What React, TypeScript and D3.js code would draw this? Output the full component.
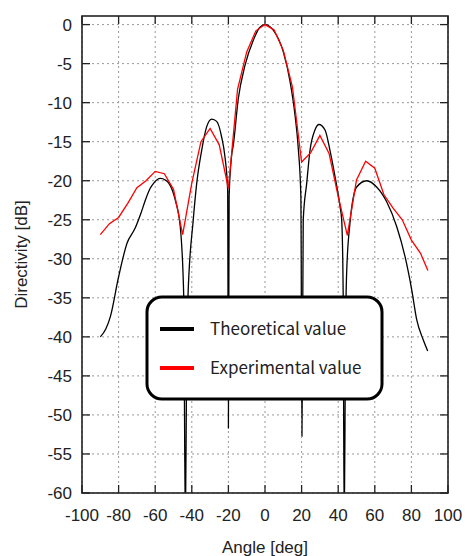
import React from "react";
import * as d3 from "d3";

const theoAngles = [-90, -87, -84.5, -80, -75.4, -71, -68, -65.4, -62.8, -60.8, -57.2, -54.5, -52.6, -49, -46.3, -44.4, -43.5, -42.8, -42.1, -39.2, -37.3, -34.6, -31.9, -29.1, -26.4, -23.7, -21.9, -20.4, -20.0, -19.6, -18.2, -17.3, -14.6, -10.9, -6.4, -3, 0, 4.5, 10, 13.7, 16.4, 18.2, 19.6, 20.2, 20.9, 22.8, 24.6, 27.3, 29.5, 32.8, 35.5, 38.3, 41, 41.9, 42.7, 43.3, 44.0, 44.6, 46.4, 50.1, 55.6, 61, 66.5, 72, 76.5, 80.2, 82.9, 86.5, 88.9];
const theoValues = [-40.0, -39.0, -37.4, -32.3, -28.0, -26.1, -24.3, -22.5, -21.0, -20.3, -19.7, -19.9, -20.3, -22.5, -25.9, -34.9, -65, -42, -34.9, -25.0, -20.3, -16.1, -13.1, -12.1, -12.4, -14.4, -16.9, -21.2, -51.7, -22.0, -16.7, -15.4, -9.5, -5.2, -2.0, -0.4, 0, -0.7, -3.5, -7.3, -11.6, -15.9, -22.0, -52.7, -25.0, -20.3, -16.1, -13.5, -12.8, -13.5, -16.1, -19.5, -23.3, -25.0, -34.0, -65, -40, -31.9, -25.5, -20.8, -20.0, -20.8, -22.7, -25.9, -29.7, -34.0, -37.8, -40.4, -41.8];

const expAngles = [-90, -85, -80, -75, -70, -65, -60, -55, -50, -45, -40, -35, -30, -25, -20, -15, -10, -5, 0, 5, 10, 15, 20, 25, 30, 35, 40, 45, 50, 55, 60, 65, 70, 75, 80, 85, 89];
const expValues = [-26.9, -25.5, -24.7, -22.9, -20.9, -20.0, -18.8, -19.1, -21.1, -26.9, -20.3, -15.0, -13.3, -15.4, -21.0, -8.3, -3.5, -0.8, 0, -0.7, -3.3, -8.0, -17.6, -16.4, -14.2, -16.5, -22.0, -27.0, -19.9, -17.5, -18.4, -21.8, -23.5, -25.0, -27.6, -29.3, -31.5];

const xTicks = [-100, -80, -60, -40, -20, 0, 20, 40, 60, 80, 100];
const yTicks = [0, -5, -10, -15, -20, -25, -30, -35, -40, -45, -50, -55, -60];

const seriesNames = ["Theoretical value", "Experimental value"];
const seriesColors = ["#000000", "#ff0000"];

export default function App() {
  const left = 82, right = 448, top = 16, bottom = 493;
  const x = d3.scaleLinear().domain([-100, 100]).range([left, right]);
  const y = d3.scaleLinear().domain([-60, 1.1]).range([bottom, top]);

  const theo = theoAngles.map((a, i) => [a, theoValues[i]] as [number, number]);
  const exp = expAngles.map((a, i) => [a, expValues[i]] as [number, number]);

  const smooth = d3.line<[number, number]>().x(d => x(d[0])).y(d => y(d[1])).curve(d3.curveMonotoneX);
  const straight = d3.line<[number, number]>().x(d => x(d[0])).y(d => y(d[1]));

  const tickFont = "'Liberation Sans', Arial, sans-serif";
  const legFont = "'Noto Sans CJK JP', 'Noto Sans', sans-serif";

  return (
    <svg width={465} height={556} style={{ position: "absolute", left: 0, top: 0, background: "#fff" }}>
      <defs>
        <clipPath id="plotclip">
          <rect x={left} y={top} width={right - left} height={bottom - top} />
        </clipPath>
      </defs>
      <rect x={0} y={0} width={465} height={556} fill="#fff" />
      {xTicks.map(t => (
        <line key={"gx" + t} x1={x(t)} x2={x(t)} y1={top} y2={bottom} stroke="#999" strokeWidth={1} strokeDasharray="2,3" />
      ))}
      {yTicks.map(t => (
        <line key={"gy" + t} x1={left} x2={right} y1={y(t)} y2={y(t)} stroke="#999" strokeWidth={1} strokeDasharray="2,3" />
      ))}
      <g clipPath="url(#plotclip)">
        <path d={smooth(theo) || ""} fill="none" stroke={seriesColors[0]} strokeWidth={1.3} />
        <path d={straight(exp) || ""} fill="none" stroke={seriesColors[1]} strokeWidth={1.3} />
      </g>
      {xTicks.map(t => (
        <g key={"tx" + t}>
          <line x1={x(t)} x2={x(t)} y1={bottom} y2={bottom - 8} stroke="#222" strokeWidth={1.3} />
          <line x1={x(t)} x2={x(t)} y1={top} y2={top + 8} stroke="#222" strokeWidth={1.3} />
          <text x={x(t)} y={521} textAnchor="middle" fontFamily={tickFont} fontSize={17} fill="#222">{t}</text>
        </g>
      ))}
      {yTicks.map(t => (
        <g key={"ty" + t}>
          <line x1={left} x2={left + 8} y1={y(t)} y2={y(t)} stroke="#222" strokeWidth={1.3} />
          <line x1={right} x2={right - 8} y1={y(t)} y2={y(t)} stroke="#222" strokeWidth={1.3} />
          <text x={72} y={y(t) + 6} textAnchor="end" fontFamily={tickFont} fontSize={17} fill="#222">{t}</text>
        </g>
      ))}
      <rect x={left} y={top} width={right - left} height={bottom - top} fill="none" stroke="#222" strokeWidth={1.6} />
      <text x={265} y={553} textAnchor="middle" fontFamily={tickFont} fontSize={17} fill="#222">Angle [deg]</text>
      <text transform={`translate(27, 254.5) rotate(-90)`} textAnchor="middle" fontFamily={tickFont} fontSize={17} fill="#222">Directivity [dB]</text>
      <rect x={147} y={297} width={235} height={102} rx={15} ry={15} fill="#fff" stroke="#000" strokeWidth={3} />
      {seriesNames.map((name, i) => (
        <g key={name}>
          <line x1={160} x2={194} y1={329 + i * 39} y2={329 + i * 39} stroke={seriesColors[i]} strokeWidth={4} />
          <text x={210} y={329 + i * 39 + 6} fontFamily={legFont} fontSize={17} fill="#222">{name}</text>
        </g>
      ))}
    </svg>
  );
}
